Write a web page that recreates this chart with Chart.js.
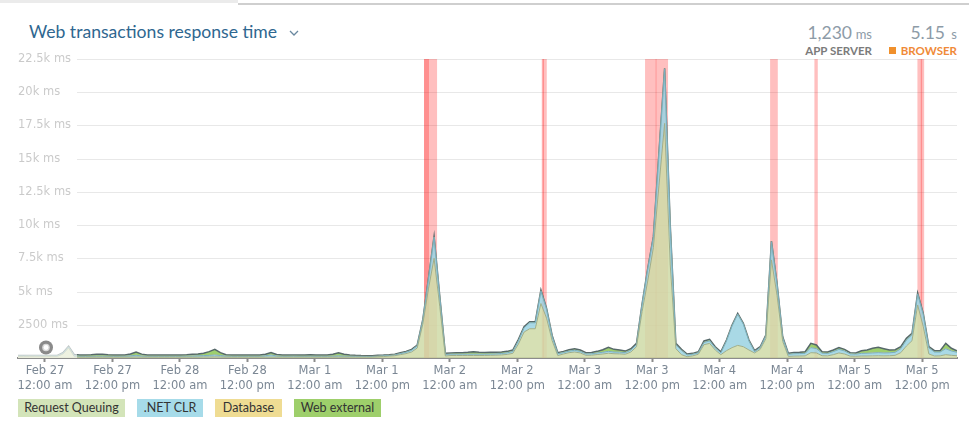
<!DOCTYPE html>
<html><head><meta charset="utf-8">
<script src="https://cdn.jsdelivr.net/npm/chart.js@4.4.0/dist/chart.umd.min.js"></script>
<style>
html,body{margin:0;padding:0;background:#fff;width:969px;height:446px;overflow:hidden;position:relative;font-family:Lato,sans-serif}
#c{position:absolute;left:0;top:0}
.abs{position:absolute;white-space:nowrap}
.lg{position:absolute;top:399px;height:18px;line-height:18px;font-size:12.5px;color:#333;text-align:center}
</style></head><body>
<div class="abs" style="left:0;top:0;width:238px;height:3px;background:#ebebeb"></div>
<div class="abs" style="left:238px;top:3px;width:731px;height:2px;background:#cfcfcf"></div>
<div class="abs" id="title" style="left:29px;top:21px;font-size:17.6px;line-height:21px;color:#2f6790">Web transactions response time</div>
<svg class="abs" style="left:289px;top:29px" width="10" height="8"><polyline points="1,2 5,6 9,2" fill="none" stroke="#6a88a0" stroke-width="1.3"/></svg>
<div class="abs" style="right:117px;top:24px;font-size:17.5px;line-height:17.5px;color:#8d9ba7">1,230</div>
<div class="abs" style="right:97px;top:27.5px;font-size:13px;line-height:13px;color:#8d9ba7">ms</div>
<div class="abs" style="right:97px;top:44.8px;font-size:11.5px;line-height:11.5px;color:#7b7b7b;font-weight:bold">APP SERVER</div>
<div class="abs" style="right:24px;top:24px;font-size:17.5px;line-height:17.5px;color:#8d9ba7">5.15</div>
<div class="abs" style="right:12px;top:27.5px;font-size:13px;line-height:13px;color:#8d9ba7">s</div>
<div class="abs" style="left:889px;top:46.5px;width:7px;height:7px;background:#f0902c"></div>
<div class="abs" style="right:12px;top:44.8px;font-size:11.5px;line-height:11.5px;color:#f08a38;font-weight:bold">BROWSER</div>
<canvas id="c" width="969" height="446"></canvas>
<div class="lg" style="left:18px;width:107px;background:#d3e4b9">Request Queuing</div>
<div class="lg" style="left:137px;width:66px;background:#a6dbe9">.NET CLR</div>
<div class="lg" style="left:215px;width:67px;background:#efdc93">Database</div>
<div class="lg" style="left:294px;width:87px;background:#9ecf6b">Web external</div>
<script>
// hours relative to Feb 27 12:00 am; one sample per hour starting Feb 26 19:12
const startHour = -4.8;
const xMin = -4.8, xMax = 162.2;
const xTickHours = [0,12,24,36,48,60,72,84,96,108,120,132,144,156];
const xTickDates = ['Feb 27','Feb 27','Feb 28','Feb 28','Mar 1','Mar 1','Mar 2','Mar 2','Mar 3','Mar 3','Mar 4','Mar 4','Mar 5','Mar 5'];
const xTickTimes = ['12:00 am','12:00 pm','12:00 am','12:00 pm','12:00 am','12:00 pm','12:00 am','12:00 pm','12:00 am','12:00 pm','12:00 am','12:00 pm','12:00 am','12:00 pm'];
const yTickValues = [2500,5000,7500,10000,12500,15000,17500,20000,22500];
const yTickLabels = ['2500 ms','5k ms','7.5k ms','10k ms','12.5k ms','15k ms','17.5k ms','20k ms','22.5k ms'];

const requestQueuing = [110,110,115,115,120,115,115,120,300,760,100,
70,70,70,70,70,70,70,70,70, 70,80,70, 70,70,70,70,70,70,70,
70,70,70,80,80,90,80,70, 70,70,70,70,70,70, 70,70,70, 70,70,70,70,70,70,70,70,70,
70,70,70,70,70,70,70,70,90,110,140,170,
250,330,450,750,2550,5200,7500,3900,150,
190,190,190,190,190,190,190,200,210,230,270,
350,1050,1950,2200,2200,4100,3000,1300,180,
300,400,450,380,200,210,260,300,360,320,310,280,450,850,
3500,5800,8300,13000,17650,7000,700,
250,100,160,280,1000,1100,600,250,
550,780,950,850,600,380,650,1450,
7380,4700,1250,120,
140,150,160,400,380,170,160,250,380,300,140,130,
150,150,160,170,160,170,200,
400,900,1300,3990,2360,300,150,160,250,200,170];

const netClr = [40,40,40,40,40,40,40,40,60,80,70,
60,60,60,70,70,60,60,60,65, 90,130,80, 60,60,60,60,60,60,60,
70,80,90,100,120,140,110,70, 60,60,60,60,60,60, 100,160,80, 60,60,65,60,60,65,60,60,60,
70,90,70,60,55,50,45,45,50,50,50,60,
80,100,130,170,300,750,1600,750,120,
100,100,100,100,100,100,100,100,100,110,120,
140,250,320,450,450,950,680,330,140,
110,120,130,120,110,110,120,130,140,130,130,120,140,160,
540,900,780,2460,4110,2950,300,
320,130,120,110,170,190,160,140,
730,1640,2350,1700,680,100,130,210,
1370,850,280,160,
180,180,190,380,330,190,180,230,270,230,170,160,
200,210,220,230,220,220,230,
300,450,450,830,920,460,300,290,450,330,260];

const database = [5,5,5,5,5,5,5,5,5,5,10,
10,10,10,10,10,10,10,10,10, 10,10,10, 10,10,10,10,10,10,10,
10,10,10,10,10,10,10,10, 10,10,10,10,10,10, 10,10,10, 10,10,10,10,10,10,10,10,10,
10,10,10,10,10,10,10,10,10,10,10,10,
10,10,10,10,10,10,10,10,10,
10,10,10,10,10,10,10,10,10,10,10,
10,10,10,10,10,10,10,10,10,
10,10,10,10,10,10,10,10,10,10,10,10,10,10,
10,10,10,10,10,10,10,
10,10,10,10,10,10,10,10,
10,10,10,10,10,10,10,10,
10,10,10,10,
10,10,10,10,10,10,10,10,10,10,10,10,
10,10,10,10,10,10,10,
10,10,10,10,10,10,10,10,10,10,10];

const webExternal = [25,25,30,30,30,30,30,30,35,45,80,
90,90,110,140,130,100,80,80,85, 130,230,130, 80,80,80,80,80,80,90,
100,120,140,170,270,410,200,100, 80,80,80,80,80,80, 110,180,110, 80,90,90,80,90,100,90,80,90,
140,220,140,90,65,50,45,45,50,50,50,50,
60,60,60,50,40,40,40,40,70,
80,90,100,130,170,140,120,120,120,110,100,
100,90,70,70,70,60,50,60,70,
80,90,110,90,80,90,110,180,290,190,150,110,100,80,
50,40,40,30,30,40,90,
70,60,60,70,100,100,80,70,
60,50,50,50,60,60,60,60,
40,40,60,60,
90,100,110,310,260,100,100,110,120,110,80,80,
190,230,340,390,310,200,180,
140,120,100,70,70,80,90,90,390,190,110];

// incident windows (hours)
const incidents = [[67.41,69.73],[67.41,68.30],[88.35,89.24],[88.50,88.75],[106.72,108.75],[108.60,110.81],
  [128.96,130.33],[136.84,137.44],[155.16,156.0],[155.75,156.36]];

const times = requestQueuing.map((_, i) => startHour + i);
const pts = arr => arr.map((v, i) => ({x: times[i], y: v}));

const bgPlugin = {
  id: 'bg',
  beforeDatasetsDraw(chart) {
    const {ctx, chartArea: a, scales: {x, y}} = chart;
    ctx.save();
    ctx.strokeStyle = '#e8e8e8'; ctx.lineWidth = 1;
    yTickValues.forEach(v => {
      const py = Math.round(y.getPixelForValue(v)) + 0.5;
      ctx.beginPath(); ctx.moveTo(77, py); ctx.lineTo(a.right, py); ctx.stroke();
    });
    ctx.fillStyle = 'rgba(255,0,0,0.25)';
    incidents.forEach(([s, e]) => {
      const x0 = x.getPixelForValue(s), x1 = x.getPixelForValue(e);
      ctx.fillRect(x0, a.top, x1 - x0, a.bottom - a.top);
    });
    ctx.restore();
  },
  afterDatasetsDraw(chart) {
    const {ctx, chartArea: a} = chart;
    ctx.save();
    ctx.fillStyle = 'rgba(255,255,255,0.6)';
    ctx.fillRect(a.left, a.top - 8, 77 - a.left, a.bottom - a.top + 8);
    ctx.fillStyle = '#8a8a8a';
    ctx.beginPath(); ctx.arc(46, 347.5, 7, 0, Math.PI * 2); ctx.fill();
    ctx.fillStyle = '#d8d8d8';
    ctx.beginPath(); ctx.arc(46, 347.5, 3.8, 0, Math.PI * 2); ctx.fill();
    ctx.fillStyle = '#ffffff';
    ctx.beginPath(); ctx.arc(46, 347.5, 2.4, 0, Math.PI * 2); ctx.fill();
    ctx.restore();
  }
};

const ds = (label, arr, fill, bg, border, bw) => ({
  label, data: pts(arr), fill, backgroundColor: bg, borderColor: border, borderWidth: bw,
  pointRadius: 0, tension: 0
});

new Chart(document.getElementById('c'), {
  type: 'line',
  data: {
    datasets: [
      ds('Request Queuing', requestQueuing, 'origin', 'rgba(207,218,167,0.85)', '#9fae8a', 1),
      ds('.NET CLR', netClr, '-1', 'rgba(154,210,226,0.85)', '#78aebf', 1),
      ds('Database', database, '-1', 'rgba(236,211,118,0.85)', '#d9c06a', 0.5),
      ds('Web external', webExternal, '-1', 'rgba(140,199,85,0.85)', '#56686a', 1.5)
    ]
  },
  options: {
    responsive: false, animation: false, devicePixelRatio: 1,
    layout: {padding: {left: 18, right: 12, top: 59, bottom: 48}},
    plugins: {legend: {display: false}, tooltip: {enabled: false}},
    scales: {
      x: {
        type: 'linear', min: xMin, max: xMax,
        afterBuildTicks: s => { s.ticks = xTickHours.map(v => ({value: v})); },
        afterFit: s => { s.height = 40; },
        grid: {display: true, drawOnChartArea: false, drawTicks: true, tickLength: 4, color: '#8c8c8c', tickColor: '#8c8c8c', tickWidth: 2},
        border: {display: true, color: '#8c8c8c', width: 2},
        ticks: {autoSkip: false, maxRotation: 0, padding: 2, color: '#7b8794',
          font: {family: 'DejaVu Sans', size: 11.5, lineHeight: 1.3},
          callback: (v, i) => [xTickDates[i], xTickTimes[i]]}
      },
      y: {
        stacked: true, min: 0, max: 22500, position: 'left', z: 1,
        afterBuildTicks: s => { s.ticks = yTickValues.map(v => ({value: v})); },
        afterFit: s => { s.width = 0; },
        grid: {display: false}, border: {display: false},
        ticks: {mirror: true, padding: 0, color: '#7a7a7a',
          font: {family: 'DejaVu Sans', size: 11.5},
          callback: (v, i) => yTickLabels[i]}
      }
    }
  },
  plugins: [bgPlugin]
});
</script>
</body></html>
